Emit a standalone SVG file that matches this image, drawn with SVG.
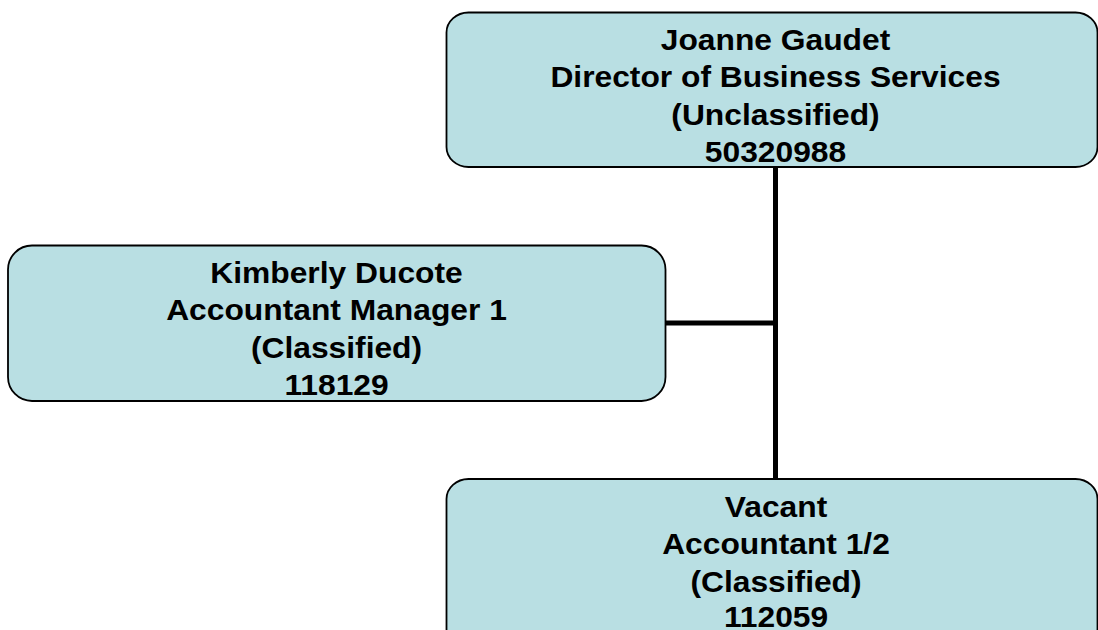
<svg xmlns="http://www.w3.org/2000/svg" width="1098" height="630" viewBox="0 0 1098 630">
<style>
.box{fill:#b9dfe3;stroke:#000;stroke-width:1.8}
.t{font-family:"Liberation Sans",Arial,sans-serif;font-weight:bold;font-size:29px;fill:#000;text-anchor:middle}
.c{stroke:#000;stroke-width:5;fill:none}
</style>
<rect width="1098" height="630" fill="#fff"/>
<g id="connectors">
<line class="c" x1="775.5" y1="167" x2="775.5" y2="479"/>
<line class="c" x1="665" y1="323" x2="775.5" y2="323"/>
</g>
<g id="node-joanne">
<rect class="box" x="446.5" y="12.5" width="651" height="154.5" rx="22" ry="20"/>
<g transform="translate(775.5,0) scale(1.096,1)">
<text class="t" x="0" y="50">Joanne Gaudet</text>
<text class="t" x="0" y="87.5">Director of Business Services</text>
<text class="t" x="0" y="125">(Unclassified)</text>
<text class="t" x="0" y="162">50320988</text>
</g>
</g>
<g id="node-kimberly">
<rect class="box" x="8" y="245.5" width="657.5" height="155.5" rx="24" ry="24"/>
<g transform="translate(336.5,0) scale(1.096,1)">
<text class="t" x="0" y="283">Kimberly Ducote</text>
<text class="t" x="0" y="320.5">Accountant Manager 1</text>
<text class="t" x="0" y="358">(Classified)</text>
<text class="t" x="0" y="395">118129</text>
</g>
</g>
<g id="node-vacant">
<rect class="box" x="446.5" y="479" width="651" height="170" rx="22" ry="20"/>
<g transform="translate(776,0) scale(1.096,1)">
<text class="t" x="0" y="517">Vacant</text>
<text class="t" x="0" y="554.5">Accountant 1/2</text>
<text class="t" x="0" y="592">(Classified)</text>
<text class="t" x="0" y="627.5">112059</text>
</g>
</g>
</svg>
